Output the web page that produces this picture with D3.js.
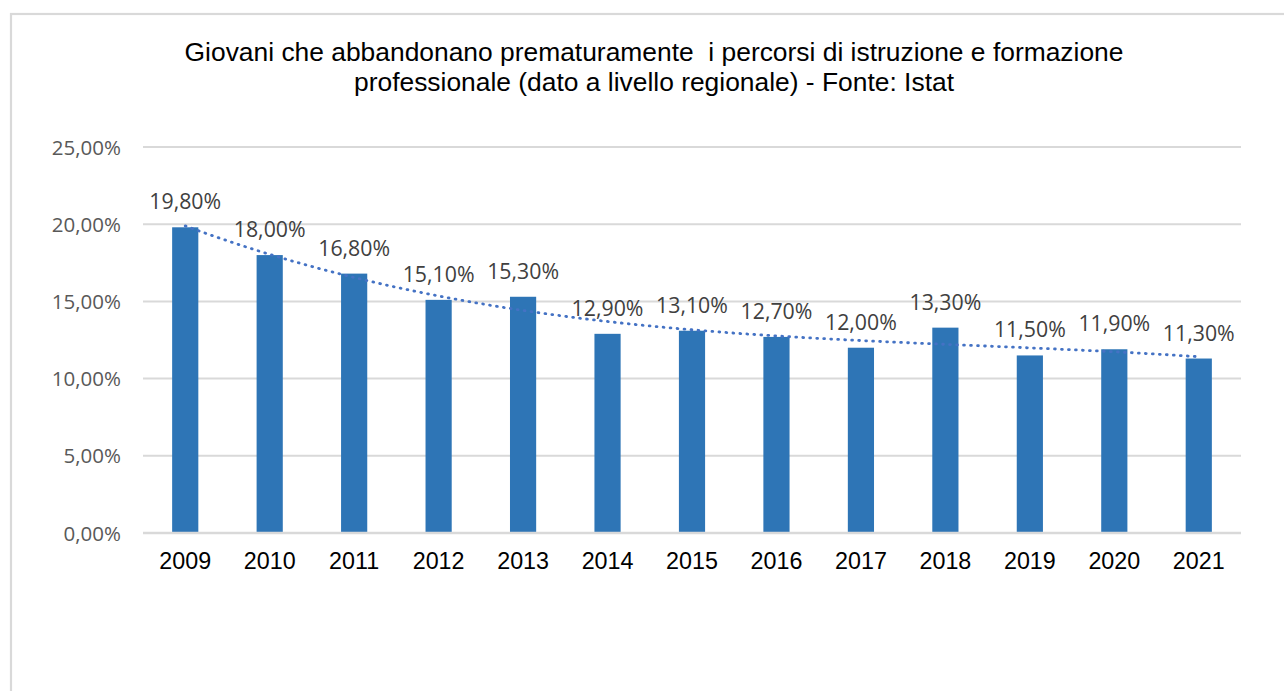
<!DOCTYPE html>
<html>
<head>
<meta charset="utf-8">
<script src="https://cdn.jsdelivr.net/npm/d3@7"></script>
<style>
  html, body { margin: 0; padding: 0; background: #fff; }
  svg { display: block; }
</style>
</head>
<body>
<script>
var years = ['2009','2010','2011','2012','2013','2014','2015','2016','2017','2018','2019','2020','2021'];
var values = [19.8, 18.0, 16.8, 15.1, 15.3, 12.9, 13.1, 12.7, 12.0, 13.3, 11.5, 11.9, 11.3];
var yTicks = [0, 5, 10, 15, 20, 25];
var titleLines = [
    'Giovani che abbandonano prematuramente  i percorsi di istruzione e formazione',
    'professionale (dato a livello regionale) - Fonte: Istat'
];

var width = 1284, height = 691,
    plot = {left: 143, right: 1241, top: 147, bottom: 533};

var svg = d3.select('body').append('svg').attr('width', width).attr('height', height);

// chart frame (runs off the right and bottom edges)
svg.append('rect')
    .attr('x', 11).attr('y', 14).attr('width', 1300).attr('height', 700)
    .attr('fill', 'none').attr('stroke', '#d9d9d9').attr('stroke-width', 2.2);

var x = d3.scaleBand().domain(years).range([plot.left, plot.right])
    .paddingInner(0.69).paddingOuter(0.345);
var y = d3.scaleLinear().domain([0, 25]).range([plot.bottom, plot.top]);

function fmt(v) {
    return v.toFixed(2).replace('.', ',') + '%';
}

// title
svg.append('text')
    .attr('x', 654).attr('y', 61)
    .attr('text-anchor', 'middle')
    .style('font-family', 'Liberation Sans, Arial, sans-serif')
    .style('font-size', '26.4px').attr('fill', '#000')
    .selectAll('tspan').data(titleLines).enter().append('tspan')
    .attr('x', 654).attr('dy', function(d, i) { return i ? 30 : 0; })
    .style('white-space', 'pre')
    .text(function(d) { return d; });

// gridlines
svg.append('g').selectAll('line').data(yTicks.filter(function(t) { return t > 0; })).enter().append('line')
    .attr('x1', plot.left).attr('x2', plot.right)
    .attr('y1', function(d) { return y(d); }).attr('y2', function(d) { return y(d); })
    .attr('stroke', '#d9d9d9').attr('stroke-width', 2);

// y axis labels
var yAxis = svg.append('g').attr('transform', 'translate(' + (plot.left - 22) + ',0)')
    .call(d3.axisLeft(y).tickValues(yTicks).tickSize(0).tickPadding(0).tickFormat(fmt));
yAxis.select('.domain').remove();
yAxis.selectAll('text')
    .style('font-family', 'Open Sans, Liberation Sans, sans-serif')
    .style('font-size', '20.5px').attr('fill', '#595959').attr('dy', '0.35em');

// bars
svg.append('g').selectAll('rect').data(values).enter().append('rect')
    .attr('x', function(d, i) { return x(years[i]); })
    .attr('y', function(d) { return y(d); })
    .attr('width', x.bandwidth())
    .attr('height', function(d) { return y(0) - y(d); })
    .attr('fill', '#2e75b6');

// baseline
svg.append('line')
    .attr('x1', plot.left).attr('x2', plot.right)
    .attr('y1', y(0)).attr('y2', y(0))
    .attr('stroke', '#d9d9d9').attr('stroke-width', 2.5);

// x axis labels
var xAxis = svg.append('g').attr('transform', 'translate(0,' + y(0) + ')')
    .call(d3.axisBottom(x).tickSize(0).tickPadding(0));
xAxis.select('.domain').remove();
xAxis.selectAll('text')
    .style('font-family', 'Liberation Sans, Arial, sans-serif')
    .style('font-size', '23.3px').attr('fill', '#000')
    .attr('dy', null).attr('y', 36);

// polynomial trendline (order 3), least squares fit on x = 1..n
function polyFit(ys, order) {
    var n = order + 1, A = [], b = [];
    for (var r = 0; r < n; r++) {
        A.push([]);
        for (var c = 0; c < n; c++) {
            var s = 0;
            ys.forEach(function(v, i) { s += Math.pow(i + 1, r + c); });
            A[r].push(s);
        }
        var t = 0;
        ys.forEach(function(v, i) { t += v * Math.pow(i + 1, r); });
        b.push(t);
    }
    for (var k = 0; k < n; k++) {
        var p = k;
        for (var j = k + 1; j < n; j++) if (Math.abs(A[j][k]) > Math.abs(A[p][k])) p = j;
        var tmp = A[k]; A[k] = A[p]; A[p] = tmp;
        var tb = b[k]; b[k] = b[p]; b[p] = tb;
        for (var j2 = k + 1; j2 < n; j2++) {
            var f = A[j2][k] / A[k][k];
            for (var c2 = k; c2 < n; c2++) A[j2][c2] -= f * A[k][c2];
            b[j2] -= f * b[k];
        }
    }
    var coef = new Array(n);
    for (var i2 = n - 1; i2 >= 0; i2--) {
        var s2 = b[i2];
        for (var c3 = i2 + 1; c3 < n; c3++) s2 -= A[i2][c3] * coef[c3];
        coef[i2] = s2 / A[i2][i2];
    }
    return function(xv) {
        var out = 0;
        coef.forEach(function(cf, i) { out += cf * Math.pow(xv, i); });
        return out;
    };
}

var trend = polyFit(values, 3);
var step = x.step(), x0 = x(years[0]) + x.bandwidth() / 2;
var trendPts = d3.range(1, values.length + 0.001, 0.05);
svg.append('path')
    .datum(trendPts)
    .attr('d', d3.line()
        .x(function(t) { return x0 + (t - 1) * step; })
        .y(function(t) { return y(trend(t)); }))
    .attr('fill', 'none')
    .attr('stroke', '#4472c4')
    .attr('stroke-width', 2.8)
    .attr('stroke-linecap', 'round')
    .attr('stroke-dasharray', '0.8 6.2');

// data labels
svg.append('g').selectAll('text').data(values).enter().append('text')
    .attr('x', function(d, i) { return x(years[i]) + x.bandwidth() / 2; })
    .attr('y', function(d) { return y(d) - 18; })
    .attr('text-anchor', 'middle')
    .style('font-family', 'Open Sans, Liberation Sans, sans-serif')
    .style('font-size', '21.3px').attr('fill', '#404040')
    .text(fmt);
</script>
</body>
</html>
